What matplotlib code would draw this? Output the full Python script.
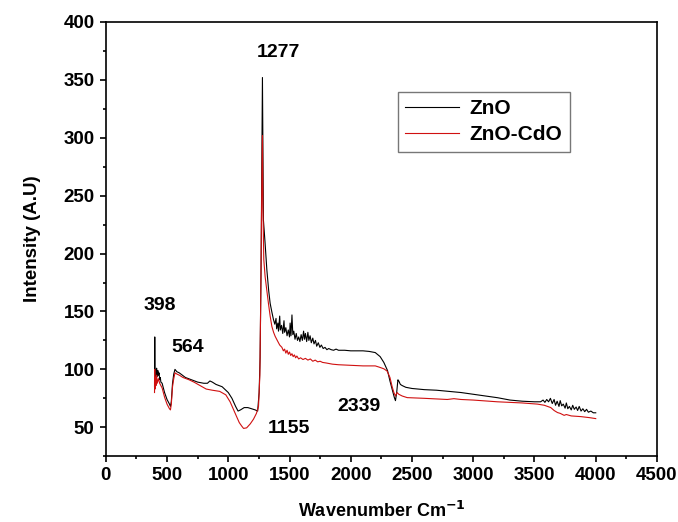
import matplotlib
matplotlib.use("Agg")
import matplotlib.pyplot as plt
from matplotlib.ticker import MultipleLocator

plt.rcParams["font.family"] = ["Liberation Sans", "DejaVu Sans"]

# ZnO spectrum (black)
zno_x = [398, 400, 402, 405, 410, 415, 420, 425, 430, 435, 440, 445, 450,
         460, 470, 480, 490, 500, 510, 520, 528, 535, 545, 555, 565, 580,
         600, 625, 650, 700, 750, 800, 830, 850, 870, 900, 950, 1000, 1030,
         1060, 1080, 1100, 1130, 1160, 1190, 1220, 1240, 1252, 1260, 1268,
         1274, 1279, 1283, 1287, 1300, 1315, 1330, 1342, 1355, 1369,
         1380, 1390, 1395, 1405, 1410, 1420, 1425, 1435, 1445, 1455, 1460,
         1470, 1480, 1490, 1500, 1505, 1512, 1520, 1527, 1535, 1545, 1555,
         1565, 1575, 1585, 1595, 1605, 1615, 1622, 1630, 1640, 1650, 1658,
         1668, 1678, 1690, 1700, 1712, 1722, 1735, 1748, 1760, 1775, 1790,
         1805, 1820, 1840, 1860, 1880, 1900, 1950, 2000, 2100, 2150, 2200,
         2240, 2270, 2300, 2320, 2340, 2355, 2365, 2375, 2385, 2392, 2405,
         2420, 2450, 2500, 2600, 2700, 2800, 2900, 3000, 3100, 3200, 3300,
         3400, 3500, 3550, 3570, 3585, 3600, 3615, 3630, 3645, 3660, 3672,
         3685, 3700, 3710, 3722, 3735, 3750, 3760, 3772, 3785, 3800, 3812,
         3825, 3840, 3852, 3865, 3880, 3895, 3910, 3925, 3940, 3960, 3980,
         4000]
zno_y = [85, 128, 95, 100, 92, 101, 94, 99, 95, 97, 91, 93, 89,
         88, 84, 80, 77, 74, 72, 70, 68, 72, 88, 96, 100, 98,
         97, 95, 93, 91, 89, 88, 88, 90, 89, 87, 85, 80, 75,
         68, 64, 65, 67, 67, 66, 65, 64, 80, 110, 190,
         280, 352, 290, 229, 210, 186, 168, 157, 150, 143,
         139, 144, 135, 140, 133, 146, 134, 138, 131, 142, 132,
         136, 129, 134, 128, 140, 129, 147, 130, 133, 126, 131,
         125, 128, 124, 130, 125, 133, 126, 131, 124, 132, 125,
         129, 123, 127, 122, 125, 120, 123, 119, 121, 118, 119,
         117, 118, 117, 116.5, 117.5, 116.5, 116.5, 116, 116, 115.5, 114.5,
         111, 106, 99, 90, 82, 76, 73, 80, 91, 90, 87,
         86, 84.5, 83.5, 82.5, 82, 81, 80, 78.5, 77, 75.5, 73.5,
         72.5, 72, 72, 73.5, 71.5, 74, 72, 75, 70.5, 74, 69,
         72.5, 68, 73, 68.5, 70, 66.5, 71, 66, 68, 65, 69,
         65.5, 67.5, 64.5, 68, 64, 66, 63.5, 65.5, 63, 64, 62.5,
         62.5]

# ZnO-CdO spectrum (red)
cdo_x = [398, 400, 402, 405, 410, 415, 420, 430, 440, 450, 460, 470, 480,
         490, 500, 510, 520, 528, 535, 545, 555, 565, 580, 600, 630, 680,
         720, 770, 820, 870, 930, 980, 1015, 1040, 1069, 1090, 1110, 1125,
         1150, 1180, 1206, 1230, 1247, 1258, 1266, 1273, 1279, 1283, 1290,
         1301, 1315, 1328, 1342, 1356, 1370, 1383, 1400, 1420, 1438, 1450,
         1460, 1470, 1480, 1490, 1500, 1510, 1520, 1530, 1540, 1550, 1560,
         1575, 1590, 1610, 1630, 1650, 1670, 1690, 1710, 1730, 1750, 1770,
         1800, 1850, 1900, 2000, 2100, 2200, 2230, 2270, 2297, 2320, 2338,
         2352, 2365, 2378, 2392, 2420, 2461, 2600, 2788, 2842, 2900, 3000,
         3197, 3400, 3524, 3580, 3633, 3660, 3688, 3710, 3742, 3760, 3800,
         3879, 3950, 4000]
cdo_y = [80, 100, 83, 93, 86, 95, 88, 92, 88, 86, 84, 80, 76,
         73, 70, 68, 66, 65, 70, 85, 92, 97, 96, 95, 93, 91,
         89, 86, 83, 82, 81, 78, 72, 66, 59, 54, 51, 49,
         49.5, 53, 57, 62, 68, 95, 170, 250, 302, 240, 195,
         180, 168, 157, 146, 137, 132, 128.5, 125, 121, 119, 116,
         117.5, 114, 116.5, 113, 115, 112, 113.5, 111, 112.5, 110, 111.5,
         109, 110, 108.5, 109.5, 108, 109, 107, 108, 106.5, 107, 106,
         105.5, 104.5, 104, 103.5, 103, 103, 102, 100.5, 98.5, 93, 85,
         80, 77, 80, 78.5, 77, 75.6, 75, 74, 74.7, 74, 73.5,
         72, 71, 70, 69, 67, 64.5, 62.7, 62, 60.3, 61, 59.8,
         59.2, 58.3, 57.5]

peak_labels = ["398", "564", "1277", "1155", "2339"]
label_x = [442, 671, 1408, 1497, 2071]
label_y = [155, 119, 374, 49, 68]

fig = plt.figure(figsize=(6.78, 5.22), dpi=100)
ax = fig.add_axes([0.156, 0.126, 0.813, 0.832])

ax.plot(zno_x, zno_y, color="black", lw=0.8, label="ZnO")
ax.plot(cdo_x, cdo_y, color="#d01010", lw=0.8, label="ZnO-CdO")

for t, x, y in zip(peak_labels, label_x, label_y):
    ax.text(x, y, t, ha="center", va="center", fontsize=14,
            fontweight="bold")

ax.set_xlim(0, 4500)
ax.set_ylim(25, 400)
ax.set_xticks(range(0, 4501, 500))
ax.set_yticks(range(50, 401, 50))
ax.xaxis.set_minor_locator(MultipleLocator(250))
ax.yaxis.set_minor_locator(MultipleLocator(25))
ax.tick_params(which="major", direction="out", length=4, width=1.2,
               labelsize=13.5, pad=4)
ax.tick_params(which="minor", direction="out", length=2.5, width=1.2)
for lab in ax.get_xticklabels() + ax.get_yticklabels():
    lab.set_fontweight("heavy")
for s in ax.spines.values():
    s.set_linewidth(1.2)

ax.set_xlabel("Wavenumber Cm$^{\\mathbf{-1}}$", fontsize=13,
              fontweight="bold", labelpad=12)
ax.set_ylabel("Intensity (A.U)", fontsize=13.5, fontweight="bold",
              labelpad=16)

leg = ax.legend(loc="upper left", bbox_to_anchor=(0.53, 0.839),
                borderaxespad=0, fancybox=False, frameon=True,
                handlelength=2.6, handletextpad=0.5, labelspacing=0.35,
                borderpad=0.35, prop={"weight": "bold", "size": 15})
leg.get_frame().set_edgecolor("#555555")
leg.get_frame().set_linewidth(1.0)

fig.savefig("out.png", dpi=100)
